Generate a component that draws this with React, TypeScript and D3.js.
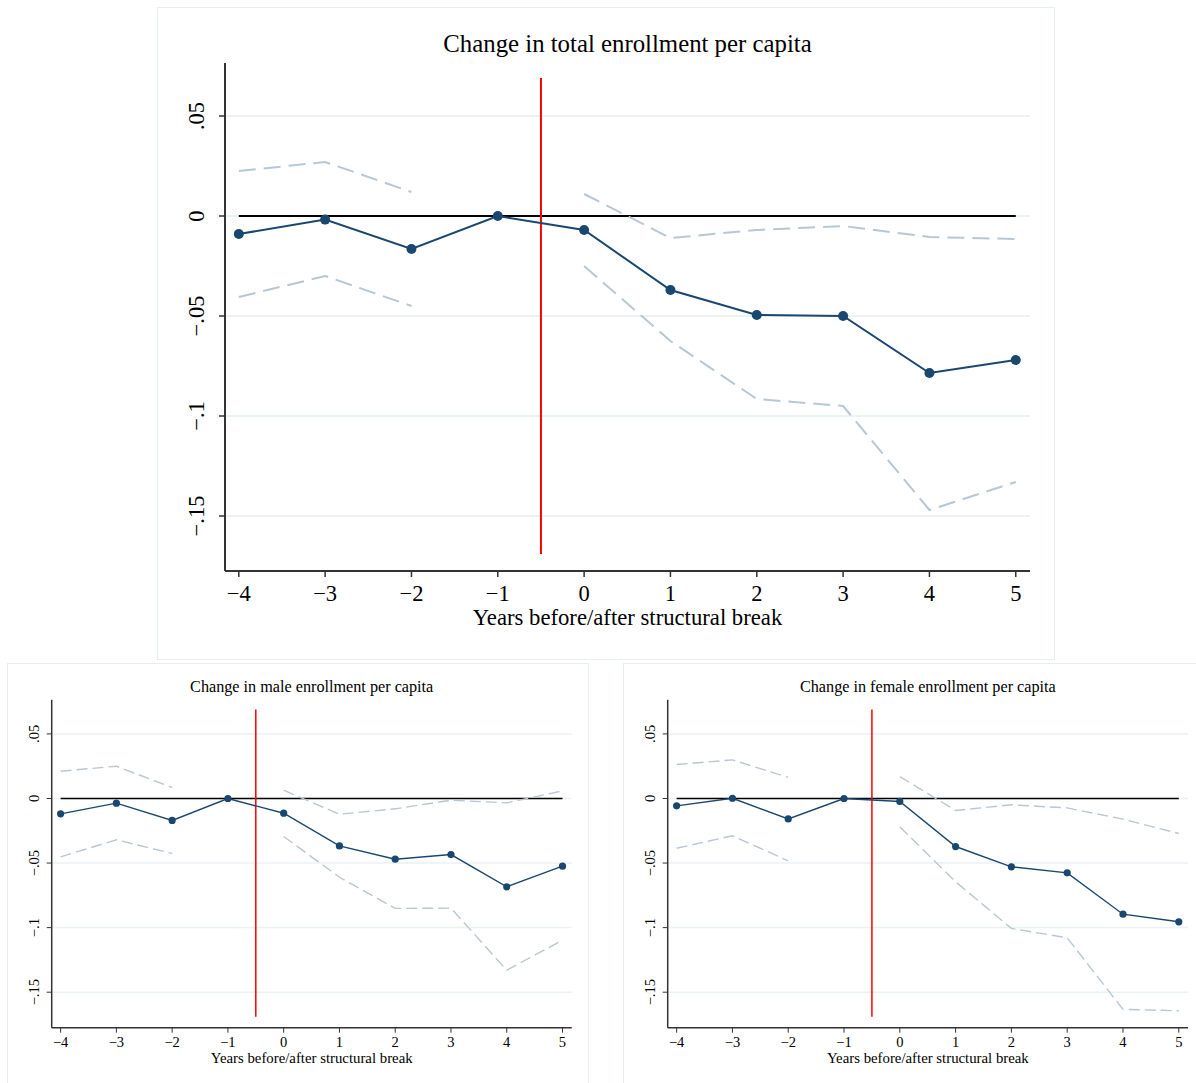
import React from "react";
import * as d3 from "d3";

// years relative to the structural break
const years = [-4, -3, -2, -1, 0, 1, 2, 3, 4, 5];
const yTicks = [0.05, 0, -0.05, -0.1, -0.15];
const yTickLabels = [".05", "0", "\u2212.05", "\u2212.1", "\u2212.15"];
const xTickLabels = ["\u22124", "\u22123", "\u22122", "\u22121", "0", "1", "2", "3", "4", "5"];

// total enrollment
const totalCoef = [-0.009, -0.0018, -0.0165, 0, -0.007, -0.037, -0.0495, -0.05, -0.0785, -0.072];
const totalUpper = [0.0225, 0.027, 0.012, null, 0.011, -0.011, -0.007, -0.005, -0.0105, -0.0115];
const totalLower = [-0.0405, -0.030, -0.045, null, -0.025, -0.0625, -0.0915, -0.095, -0.147, -0.133];

// male enrollment
const maleCoef = [-0.0119, -0.0036, -0.017, 0, -0.0114, -0.0367, -0.047, -0.0434, -0.0684, -0.0524];
const maleUpper = [0.0211, 0.025, 0.0085, null, 0.0064, -0.0122, -0.008, -0.0013, -0.0034, 0.0059];
const maleLower = [-0.0452, -0.032, -0.0426, null, -0.0294, -0.061, -0.0851, -0.0849, -0.133, -0.1097];

// female enrollment
const femaleCoef = [-0.0057, 0.0002, -0.0158, 0, -0.0023, -0.0372, -0.0529, -0.0576, -0.0896, -0.0955];
const femaleUpper = [0.0263, 0.0299, 0.0163, null, 0.017, -0.0093, -0.0049, -0.0073, -0.016, -0.0271];
const femaleLower = [-0.0385, -0.0289, -0.0483, null, -0.022, -0.0645, -0.1006, -0.1079, -0.1633, -0.1644];

const NAVY = "#1a476f";
const CI = "#b8c7d4";
const GRID = "#eaf2f3";
const FONT = "'Liberation Serif', 'Times New Roman', serif";

type PanelProps = {
  title: string;
  coef: number[];
  upper: (number | null)[];
  lower: (number | null)[];
  box: [number, number, number, number];
  plot: { left: number; right: number; top: number; bottom: number };
  big: boolean;
};

function Panel({ title, coef, upper, lower, box, plot, big }: PanelProps) {
  const x = d3.scaleLinear().domain([-4.16, 5.165]).range([plot.left, plot.right]);
  const y = d3.scaleLinear().domain([-0.1775, 0.0765]).range([plot.bottom, plot.top]);

  const fs = big ? 22.5 : 14.5;
  const titleFs = big ? 24.8 : 16.2;
  const labelFs = big ? 22.7 : 14.8;
  const lw = big ? 2 : 1.4;
  const r = big ? 5 : 3.6;
  const dash = big ? "17,8" : "11,5";

  const line = d3.line<[number, number | null]>()
    .defined(d => d[1] !== null)
    .x(d => x(d[0]))
    .y(d => y(d[1] as number));

  const pts = (arr: (number | null)[]) => years.map((yr, i) => [yr, arr[i]] as [number, number | null]);

  return (
    <g>
      <rect x={box[0] + 0.5} y={box[1] + 0.5} width={box[2]} height={box[3]} fill="white" stroke="#e6eef0" />
      <text x={(plot.left + plot.right) / 2} y={big ? 52 : plot.top - 8} textAnchor="middle"
        fontFamily={FONT} fontSize={titleFs}>{title}</text>

      {/* grid */}
      {yTicks.map(t => (
        <line key={"g" + t} x1={plot.left} x2={plot.right} y1={y(t)} y2={y(t)} stroke={GRID} strokeWidth={big ? 2 : 1.5} />
      ))}

      {/* zero reference */}
      <line x1={x(-4)} x2={x(5)} y1={y(0)} y2={y(0)} stroke="black" strokeWidth={big ? 2 : 1.3} />

      {/* confidence bounds */}
      <path d={line(pts(upper)) || ""} fill="none" stroke={CI} strokeWidth={lw} strokeDasharray={dash} />
      <path d={line(pts(lower)) || ""} fill="none" stroke={CI} strokeWidth={lw} strokeDasharray={dash} />

      {/* break line */}
      <line x1={x(-0.5)} x2={x(-0.5)} y1={y(0.069)} y2={y(-0.169)} stroke="#ff0000" strokeWidth={big ? 2 : 1.5} />

      {/* estimates */}
      <path d={line(pts(coef)) || ""} fill="none" stroke={NAVY} strokeWidth={lw} />
      {coef.map((v, i) => (
        <circle key={"c" + i} cx={x(years[i])} cy={y(v)} r={r} fill={NAVY} />
      ))}

      {/* y axis */}
      <line x1={plot.left} x2={plot.left} y1={plot.top} y2={plot.bottom} stroke="#333" strokeWidth={big ? 2 : 1.5} />
      {yTicks.map((t, i) => (
        <g key={"yt" + t}>
          <line x1={plot.left - (big ? 6 : 5)} x2={plot.left} y1={y(t)} y2={y(t)} stroke="#333" strokeWidth={big ? 1.5 : 1} />
          <text transform={`translate(${plot.left - (big ? 21 : 13)},${y(t)}) rotate(-90)`} textAnchor="middle"
            fontFamily={FONT} fontSize={fs}>{yTickLabels[i]}</text>
        </g>
      ))}

      {/* x axis */}
      <line x1={plot.left} x2={plot.right} y1={plot.bottom} y2={plot.bottom} stroke="#333" strokeWidth={big ? 2 : 1.5} />
      {years.map((yr, i) => (
        <g key={"xt" + yr}>
          <line x1={x(yr)} x2={x(yr)} y1={plot.bottom} y2={plot.bottom + (big ? 6 : 5)} stroke="#333" strokeWidth={big ? 1.5 : 1} />
          <text x={x(yr)} y={plot.bottom + (big ? 30 : 19)} textAnchor="middle" fontFamily={FONT} fontSize={fs}>{xTickLabels[i]}</text>
        </g>
      ))}
      <text x={(plot.left + plot.right) / 2} y={plot.bottom + (big ? 54 : 35)} textAnchor="middle"
        fontFamily={FONT} fontSize={labelFs}>Years before/after structural break</text>
    </g>
  );
}

export default function App() {
  return (
    <svg width={1196} height={1083} style={{ position: "absolute", left: 0, top: 0, background: "white" }}>
      <rect width={1196} height={1083} fill="white" />
      <Panel title="Change in total enrollment per capita" coef={totalCoef} upper={totalUpper} lower={totalLower}
        box={[157, 7, 897, 652]} plot={{ left: 225, right: 1030, top: 63, bottom: 571 }} big={true} />
      <Panel title="Change in male enrollment per capita" coef={maleCoef} upper={maleUpper} lower={maleLower}
        box={[7, 663, 581, 420]} plot={{ left: 51.7, right: 571.7, top: 699.7, bottom: 1027.7 }} big={false} />
      <Panel title="Change in female enrollment per capita" coef={femaleCoef} upper={femaleUpper} lower={femaleLower}
        box={[623, 663, 573, 420]} plot={{ left: 667.7, right: 1188, top: 699.7, bottom: 1027.7 }} big={false} />
    </svg>
  );
}
